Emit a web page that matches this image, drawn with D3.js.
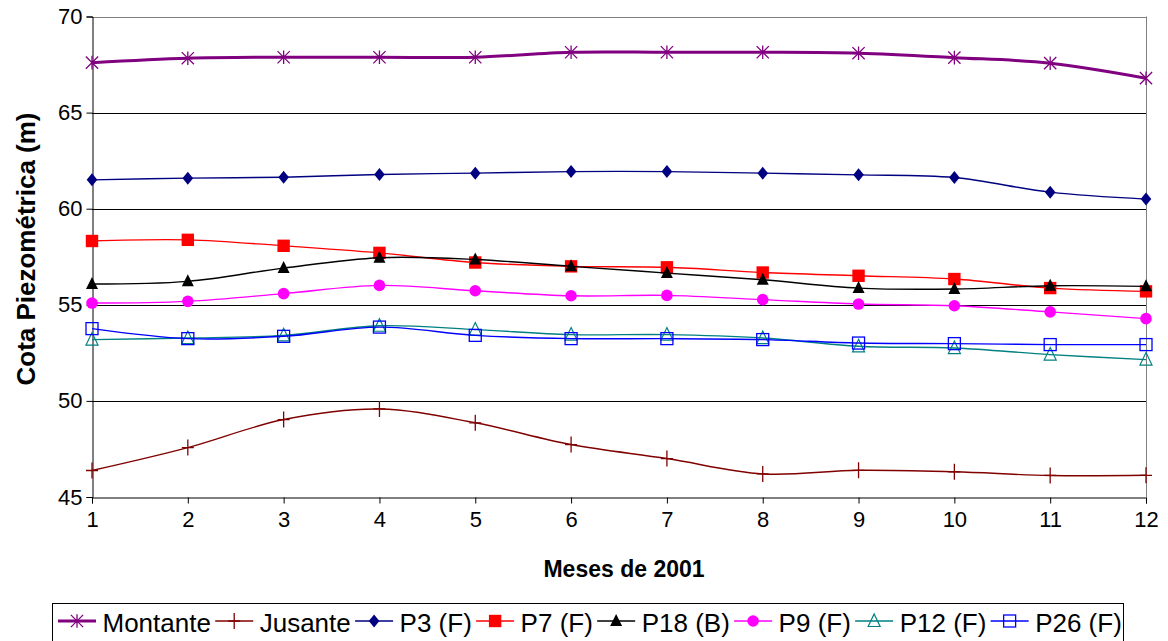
<!DOCTYPE html>
<html>
<head>
<meta charset="utf-8">
<script src="https://cdn.jsdelivr.net/npm/d3@7"></script>
<style>
  html, body { margin: 0; padding: 0; background: #fff; }
  svg { display: block; font-family: "Liberation Sans", Arial, sans-serif; }
</style>
</head>
<body>
<svg id="chart" width="1168" height="641"></svg>
<script>
// Monthly piezometric heads (m), 2001
const months = [1, 2, 3, 4, 5, 6, 7, 8, 9, 10, 11, 12];
const yTicks = [45, 50, 55, 60, 65, 70];
const seriesNames = ["Montante", "Jusante", "P3 (F)", "P7 (F)", "P18 (B)", "P9 (F)", "P12 (F)", "P26 (F)"];

const montante = [67.6, 67.83, 67.88, 67.88, 67.88, 68.14, 68.14, 68.14, 68.09, 67.86, 67.57, 66.79];
const jusante  = [46.38, 47.57, 49.03, 49.58, 48.86, 47.73, 47.0, 46.2, 46.39, 46.31, 46.12, 46.13];
const p3       = [61.5, 61.59, 61.64, 61.78, 61.85, 61.93, 61.93, 61.85, 61.76, 61.62, 60.86, 60.5];
const p7       = [58.32, 58.38, 58.07, 57.7, 57.2, 57.0, 56.95, 56.68, 56.51, 56.34, 55.87, 55.7];
const p18      = [56.08, 56.22, 56.91, 57.45, 57.36, 57.0, 56.65, 56.3, 55.87, 55.82, 55.99, 55.96];
const p9       = [55.09, 55.18, 55.58, 56.01, 55.73, 55.47, 55.49, 55.27, 55.04, 54.95, 54.63, 54.28];
const p12      = [53.19, 53.27, 53.41, 53.91, 53.71, 53.45, 53.45, 53.27, 52.84, 52.75, 52.41, 52.15];
const p26      = [53.76, 53.24, 53.36, 53.84, 53.41, 53.24, 53.24, 53.19, 53.01, 52.98, 52.93, 52.93];

const seriesValues = [montante, jusante, p3, p7, p18, p9, p12, p26];

// Styling per series
const styles = [
  { color: "#800080", width: 3,   marker: "asterisk" },
  { color: "#800000", width: 1.4, marker: "plus" },
  { color: "#000080", width: 1.4, marker: "diamond" },
  { color: "#ff0000", width: 1.4, marker: "square" },
  { color: "#000000", width: 1.4, marker: "triangle" },
  { color: "#ff00ff", width: 1.4, marker: "circle" },
  { color: "#008080", width: 1.4, marker: "openTriangle" },
  { color: "#0000ff", width: 1.4, marker: "openSquare" }
];

const svg = d3.select("#chart");
const plotLeft = 92, plotRight = 1146, plotTop = 16.5, plotBottom = 497;

const x = d3.scaleLinear().domain([1, 12]).range([plotLeft, plotRight]);
const y = d3.scaleLinear().domain([45, 70]).range([plotBottom, plotTop]);

// Gridlines (inner) and plot border
svg.append("g")
  .selectAll("line")
  .data(yTicks.filter(t => t > 45 && t < 70))
  .join("line")
  .attr("x1", plotLeft).attr("x2", plotRight)
  .attr("y1", d => Math.round(y(d)) + 0.5).attr("y2", d => Math.round(y(d)) + 0.5)
  .attr("stroke", "#000").attr("stroke-width", 1);

svg.append("line")
  .attr("x1", plotLeft).attr("x2", plotRight)
  .attr("y1", Math.round(y(70)) + 0.5).attr("y2", Math.round(y(70)) + 0.5)
  .attr("stroke", "#808080");
svg.append("line")
  .attr("x1", plotRight + 0.5).attr("x2", plotRight + 0.5)
  .attr("y1", y(70)).attr("y2", y(45))
  .attr("stroke", "#808080");

// Axes
const yAxis = d3.axisLeft(y).tickValues(yTicks).tickSize(6).tickPadding(4).tickFormat(d3.format("d"));
const gy = svg.append("g").attr("transform", `translate(${plotLeft + 0.5},0)`).call(yAxis);
gy.select(".domain").attr("stroke", "#000");
gy.selectAll(".tick line").attr("stroke", "#000");
gy.selectAll(".tick text").attr("font-size", 22).attr("fill", "#000")
  .attr("font-family", "'Liberation Sans', Arial, sans-serif");

const xAxis = d3.axisBottom(x).tickValues(months).tickSize(6).tickPadding(8).tickFormat(d3.format("d"));
const gx = svg.append("g").attr("transform", `translate(0,${Math.round(plotBottom) + 0.5})`).call(xAxis);
gx.select(".domain").attr("stroke", "#000");
gx.selectAll(".tick line").attr("stroke", "#000");
gx.selectAll(".tick text").attr("font-size", 22).attr("fill", "#000")
  .attr("font-family", "'Liberation Sans', Arial, sans-serif");

// Axis titles
svg.append("text")
  .attr("x", (plotLeft + plotRight) / 2 + 5).attr("y", 577)
  .attr("text-anchor", "middle")
  .attr("font-size", 23).attr("font-weight", "bold")
  .text("Meses de 2001");

svg.append("text")
  .attr("transform", "translate(35,249) rotate(-90)")
  .attr("text-anchor", "middle")
  .attr("font-size", 26).attr("font-weight", "bold")
  .attr("textLength", 273).attr("lengthAdjust", "spacingAndGlyphs")
  .text("Cota Piezométrica (m)");

// Marker drawing
function drawMarker(g, type, color, cx, cy) {
  switch (type) {
    case "asterisk": {
      const r = 6.8;
      const d = r * 0.9;
      g.append("path")
        .attr("d", `M${cx},${cy - r}L${cx},${cy + r}M${cx - d},${cy - d}L${cx + d},${cy + d}M${cx - d},${cy + d}L${cx + d},${cy - d}`)
        .attr("stroke", color).attr("stroke-width", 1.3).attr("fill", "none");
      break;
    }
    case "plus":
      g.append("path")
        .attr("d", `M${cx},${cy - 8}L${cx},${cy + 8}M${cx - 6},${cy}L${cx + 6},${cy}`)
        .attr("stroke", color).attr("stroke-width", 1.3).attr("fill", "none");
      break;
    case "diamond":
      g.append("path")
        .attr("d", `M${cx},${cy - 6.5}L${cx + 5.3},${cy}L${cx},${cy + 6.5}L${cx - 5.3},${cy}Z`)
        .attr("fill", color);
      break;
    case "square":
      g.append("rect")
        .attr("x", cx - 6.2).attr("y", cy - 6.2).attr("width", 12.4).attr("height", 12.4)
        .attr("fill", color);
      break;
    case "triangle":
      g.append("path")
        .attr("d", `M${cx},${cy - 7}L${cx + 6},${cy + 5}L${cx - 6},${cy + 5}Z`)
        .attr("fill", color);
      break;
    case "circle":
      g.append("circle").attr("cx", cx).attr("cy", cy).attr("r", 5.8).attr("fill", color);
      break;
    case "openTriangle":
      g.append("path")
        .attr("d", `M${cx},${cy - 7}L${cx + 6},${cy + 5.5}L${cx - 6},${cy + 5.5}Z`)
        .attr("fill", "none").attr("stroke", color).attr("stroke-width", 1.2);
      break;
    case "openSquare":
      g.append("rect")
        .attr("x", cx - 6).attr("y", cy - 6).attr("width", 12).attr("height", 12)
        .attr("fill", "none").attr("stroke", color).attr("stroke-width", 1.3);
      break;
  }
}

// Smoothed series lines with markers
const line = d3.line()
  .x((d, i) => x(months[i]))
  .y(d => y(d))
  .curve(d3.curveCardinal.tension(0));

seriesValues.forEach((vals, si) => {
  const st = styles[si];
  const g = svg.append("g");
  g.append("path")
    .attr("d", line(vals))
    .attr("fill", "none")
    .attr("stroke", st.color)
    .attr("stroke-width", st.width);
  vals.forEach((v, i) => drawMarker(g, st.marker, st.color, x(months[i]), y(v)));
});

// Legend
const legend = svg.append("g");
legend.append("rect")
  .attr("x", 52.5).attr("y", 603.5).attr("width", 1071).attr("height", 60)
  .attr("fill", "#fff").attr("stroke", "#000").attr("stroke-width", 1);

let lx = 58;
const ly = 621;
seriesNames.forEach((name, si) => {
  const st = styles[si];
  const item = legend.append("g");
  item.append("line")
    .attr("x1", lx).attr("x2", lx + 38).attr("y1", ly).attr("y2", ly)
    .attr("stroke", st.color).attr("stroke-width", st.width);
  drawMarker(item, st.marker, st.color, lx + 19, ly);
  const t = item.append("text")
    .attr("x", lx + 44.5).attr("y", 632)
    .attr("font-size", 26).attr("fill", "#000")
    .text(name);
  lx = lx + 44.5 + t.node().getComputedTextLength() + 4.3;
});
</script>
</body>
</html>
